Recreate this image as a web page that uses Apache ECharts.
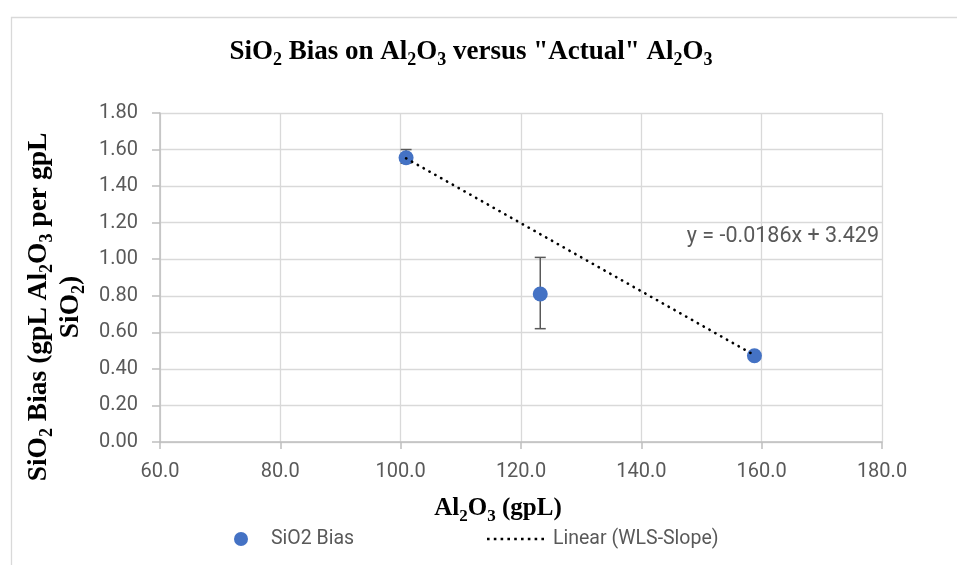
<!DOCTYPE html>
<html>
<head>
<meta charset="utf-8">
<script src="https://cdn.jsdelivr.net/npm/echarts@6/dist/echarts.min.js"></script>
<style>html,body{margin:0;padding:0;background:#fff}#c{width:957px;height:565px}</style>
</head>
<body>
<div id="c"></div>
<script>
// ---- data ----
const seriesName = 'SiO2 Bias';
const trendName = 'Linear (WLS-Slope)';
const xValues = [100.9, 123.2, 158.8];
const yValues = [1.555, 0.81, 0.472];
const errLow = [1.525, 0.62, 0.472];
const errHigh = [1.60, 1.01, 0.472];
const trendX = [100.9, 158.8];
const trendY = [1.552, 0.475];
const equationText = 'y = -0.0186x + 3.429';
const xTicks = { min: 60, max: 180, interval: 20 };
const yTicks = { min: 0, max: 1.8, interval: 0.2 };

const points = xValues.map((x, i) => [x, yValues[i]]);
const errData = xValues.map((x, i) => [x, errLow[i], errHigh[i]]);
const trendData = trendX.map((x, i) => [x, trendY[i]]);

const serif = "'Liberation Serif', 'Times New Roman', serif";
const sans = "Roboto, 'Noto Sans', sans-serif";
const grey = '#595959';

const richSerif = (size, sub, padTop) => ({
  b: { fontFamily: serif, fontWeight: 'bold', fontSize: size, color: '#000', lineHeight: size + 4, verticalAlign: 'middle' },
  s: { fontFamily: serif, fontWeight: 'bold', fontSize: sub, color: '#000', lineHeight: 8, verticalAlign: 'top', padding: [padTop, 0, 0, 0] }
});

// dotted legend icon (9 dots)
let dotPath = 'path://';
for (let i = 0; i < 9; i++) { const x = i * 6.8; dotPath += 'M' + x + ',0h2.6v2.6h-' + 2.6 + 'z'; }

const chart = echarts.init(document.getElementById('c'), null, { renderer: 'canvas' });
chart.setOption({
  animation: false,
  backgroundColor: '#fff',
  grid: { left: 160, right: 75, top: 113, bottom: 123, containLabel: false },
  xAxis: {
    type: 'value', min: xTicks.min, max: xTicks.max, interval: xTicks.interval,
    axisLine: { show: true, onZero: false, lineStyle: { color: '#bfbfbf', width: 1.5 } },
    axisTick: { show: true, inside: false, length: 7, lineStyle: { color: '#bfbfbf', width: 1.5 } },
    axisLabel: { color: grey, fontFamily: sans, fontSize: 20, margin: 20, formatter: v => v.toFixed(1) },
    splitLine: { show: true, lineStyle: { color: '#d9d9d9', width: 1.3 } }
  },
  yAxis: {
    type: 'value', min: yTicks.min, max: yTicks.max, interval: yTicks.interval,
    axisLine: { show: true, lineStyle: { color: '#bfbfbf', width: 1.5 } },
    axisTick: { show: true, inside: false, length: 8, lineStyle: { color: '#bfbfbf', width: 1.5 } },
    axisLabel: { color: grey, fontFamily: sans, fontSize: 20, margin: 22, formatter: v => v.toFixed(2) },
    splitLine: { show: true, lineStyle: { color: '#d9d9d9', width: 1.3 } }
  },
  legend: [
    {
      data: [{ name: seriesName, icon: 'circle' }],
      left: 229, top: 524, itemWidth: 14, itemHeight: 14,
      textStyle: { color: grey, fontFamily: sans, fontSize: 19.5, padding: [0, 0, 0, 18] }
    },
    {
      data: [{ name: trendName, icon: dotPath, itemStyle: { color: '#000' } }],
      left: 482, top: 524, itemWidth: 57, itemHeight: 2.6,
      textStyle: { color: grey, fontFamily: sans, fontSize: 19.5, padding: [0, 0, 0, 4] }
    }
  ],
  series: [
    {
      name: trendName, type: 'line', data: trendData, symbol: 'none',
      lineStyle: { color: '#000', width: 2.6, type: [0.3, 6.4], cap: 'round' },
      itemStyle: { color: '#000' }, z: 4
    },
    {
      name: 'err', type: 'custom', data: errData, z: 3,
      renderItem: function (params, api) {
        const x = api.value(0);
        const lo = api.coord([x, api.value(1)]);
        const hi = api.coord([x, api.value(2)]);
        const w = 5.5;
        const style = { stroke: '#595959', lineWidth: 1.5 };
        return {
          type: 'group',
          children: [
            { type: 'line', shape: { x1: lo[0], y1: lo[1], x2: hi[0], y2: hi[1] }, style },
            { type: 'line', shape: { x1: lo[0] - w, y1: lo[1], x2: lo[0] + w, y2: lo[1] }, style },
            { type: 'line', shape: { x1: hi[0] - w, y1: hi[1], x2: hi[0] + w, y2: hi[1] }, style }
          ]
        };
      }
    },
    {
      name: seriesName, type: 'scatter', data: points, symbol: 'circle', symbolSize: 15,
      itemStyle: { color: '#4472C4', opacity: 1 }, z: 3
    }
  ],
  graphic: [
    { type: 'rect', left: 9, top: 15, z: -10, shape: { width: 960, height: 560 }, style: { fill: 'none', stroke: '#d9d9d9', lineWidth: 1.3 } },
    {
      type: 'text', x: 471, y: 52, z: 10,
      style: {
        text: '{b|SiO}{s|2}{b| Bias on Al}{s|2}{b|O}{s|3}{b| versus "Actual" Al}{s|2}{b|O}{s|3}',
        rich: richSerif(27, 18, 15), align: 'center', verticalAlign: 'middle'
      }
    },
    {
      type: 'text', x: 498, y: 509, z: 10,
      style: {
        text: '{b|Al}{s|2}{b|O}{s|3}{b| (gpL)}',
        rich: richSerif(25, 17, 14), align: 'center', verticalAlign: 'middle'
      }
    },
    {
      type: 'text', x: 55, y: 307, rotation: Math.PI / 2, z: 10,
      style: {
        text: '{b|SiO}{s|2}{b| Bias (gpL Al}{s|2}{b|O}{s|3}{b| per gpL}\n{b|SiO}{s|2}{b|)}',
        rich: richSerif(27.5, 18, 15), align: 'center', verticalAlign: 'middle'
      }
    },
    {
      type: 'text', x: 879, y: 237, z: 10,
      style: { text: equationText, fill: grey, font: '21.5px ' + sans, align: 'right', verticalAlign: 'middle' }
    }
  ]
});
</script>
</body>
</html>
